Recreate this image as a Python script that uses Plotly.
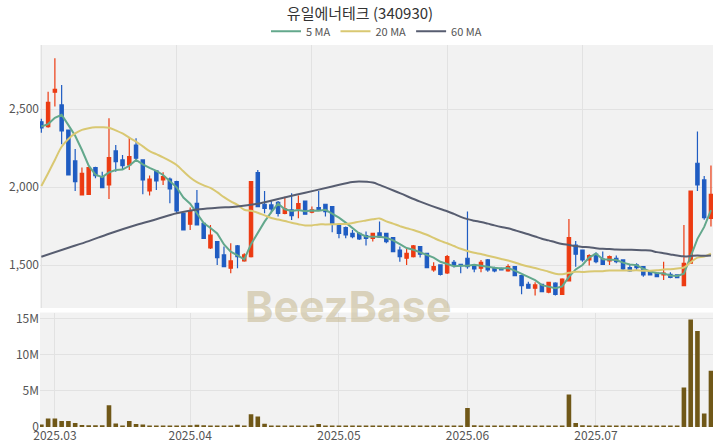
import numpy as np
import pandas as pd
import plotly.graph_objects as go

# ---- data ----
start_date = "2025-02-27"
holidays = ["2025-03-03", "2025-05-01", "2025-05-05", "2025-05-06", "2025-06-03", "2025-06-06"]

opens = [2420, 2389, 2609, 2528, 2367, 2169, 1951, 1955, 2126, 2068,
         2015, 2233, 2175, 2143, 2271, 2175, 1976, 2105, 2047, 2053,
         2036, 1833, 1763, 1897, 1769, 1611, 1652, 1566, 1481, 1624,
         1528, 1556, 2094, 1891, 1887, 1904, 1833, 1855, 1861, 1912,
         1840, 1870, 1891, 1876, 1758, 1741, 1705, 1705, 1690, 1673,
         1707, 1705, 1677, 1598, 1545, 1556, 1620, 1577, 1470, 1502,
         1451, 1519, 1506, 1545, 1498, 1481, 1534, 1481, 1481, 1464,
         1491, 1434, 1378, 1353, 1378, 1327, 1385, 1314, 1400, 1630,
         1598, 1534, 1571, 1540, 1528, 1545, 1534, 1485, 1502, 1491,
         1459, 1449, 1438, 1442, 1438, 1370, 1513, 2154, 2047, 1801]
highs = [2440, 2613, 2827, 2656, 2370, 2246, 2126, 2132, 2132, 2100,
         2442, 2271, 2207, 2318, 2314, 2175, 2075, 2111, 2096, 2062,
         2041, 1835, 1870, 1983, 1769, 1758, 1652, 1620, 1641, 1630,
         1577, 2040, 2111, 1976, 1912, 1912, 1940, 1961, 1947, 1912,
         1876, 1976, 1891, 1876, 1769, 1748, 1726, 1711, 1716, 1709,
         1780, 1705, 1680, 1620, 1605, 1630, 1620, 1580, 1519, 1502,
         1566, 1534, 1506, 1844, 1498, 1534, 1540, 1491, 1485, 1506,
         1491, 1434, 1395, 1391, 1378, 1395, 1391, 1417, 1797, 1656,
         1598, 1571, 1583, 1588, 1562, 1562, 1534, 1502, 1513, 1491,
         1470, 1449, 1523, 1455, 1442, 1758, 1980, 2357, 2073, 2139]
lows = [2350, 2382, 2517, 2276, 2075, 1976, 1947, 1951, 2058, 1994,
        1925, 2100, 2111, 2111, 2175, 1955, 1947, 1983, 2015, 1898,
        1833, 1723, 1726, 1755, 1670, 1605, 1502, 1491, 1449, 1481,
        1523, 1550, 1874, 1833, 1833, 1812, 1827, 1790, 1801, 1827,
        1833, 1851, 1812, 1711, 1673, 1673, 1673, 1662, 1626, 1652,
        1675, 1641, 1585, 1523, 1502, 1550, 1550, 1483, 1459, 1434,
        1444, 1485, 1449, 1477, 1455, 1455, 1459, 1455, 1466, 1459,
        1434, 1314, 1353, 1306, 1327, 1321, 1306, 1314, 1400, 1491,
        1523, 1498, 1513, 1502, 1502, 1513, 1470, 1459, 1470, 1427,
        1434, 1427, 1406, 1417, 1417, 1370, 1510, 1976, 1791, 1748]
closes = [2380, 2545, 2628, 2361, 2079, 2036, 2090, 2126, 2075, 1998,
          2190, 2165, 2139, 2197, 2186, 2047, 2053, 2041, 2068, 1989,
          1848, 1726, 1844, 1759, 1673, 1694, 1549, 1491, 1528, 1556,
          1566, 2036, 1876, 1865, 1861, 1833, 1861, 1818, 1895, 1827,
          1855, 1855, 1844, 1769, 1705, 1694, 1684, 1669, 1673, 1705,
          1680, 1652, 1588, 1556, 1577, 1624, 1571, 1485, 1491, 1442,
          1556, 1498, 1498, 1491, 1477, 1519, 1470, 1464, 1470, 1491,
          1434, 1370, 1353, 1374, 1331, 1391, 1314, 1412, 1678, 1571,
          1534, 1562, 1523, 1506, 1556, 1523, 1477, 1464, 1485, 1438,
          1438, 1427, 1449, 1423, 1421, 1513, 1976, 2015, 1805, 1955]
volumes_m = [0.33, 1.17, 1.17, 0.83, 0.83, 0.56, 0.28, 0.25, 0.25, 0.25,
             3.0, 0.47, 0.10, 0.83, 0.40, 0.35, 0.15, 0.15, 0.10, 0.10,
             0.10, 0.20, 0.25, 0.30, 0.25, 0.20, 0.20, 0.20, 0.20, 0.30,
             0.10, 1.76, 1.45, 0.45, 0.20, 0.20, 0.20, 0.15, 0.20, 0.20,
             0.15, 0.40, 0.20, 0.20, 0.15, 0.15, 0.10, 0.10, 0.10, 0.10,
             0.12, 0.10, 0.10, 0.10, 0.08, 0.10, 0.12, 0.15, 0.12, 0.15,
             0.20, 0.15, 0.12, 2.64, 0.24, 0.22, 0.20, 0.12, 0.10, 0.22,
             0.25, 0.15, 0.12, 0.15, 0.15, 0.15, 0.20, 0.20, 4.50, 0.56,
             0.24, 0.20, 0.15, 0.12, 0.12, 0.10, 0.10, 0.12, 0.10, 0.08,
             0.10, 0.10, 0.12, 0.15, 0.10, 5.47, 14.9, 13.3, 1.86, 7.80]

# moving-average values before each window is full
ma5_head = [2390, 2405, 2445, 2465]
ma20_head = [2008, 2090, 2175, 2260, 2310, 2345, 2368, 2378, 2384, 2385,
             2382, 2365, 2345, 2318, 2293, 2262, 2232, 2212, 2192]
ma60_head_idx = [0, 4, 7, 10, 14, 17, 20, 23, 26, 29, 32, 35, 39, 43, 46, 47, 49, 50, 53, 56]
ma60_head_val = [1555, 1612, 1655, 1702, 1758, 1795, 1833, 1857, 1868, 1877,
                 1895, 1925, 1965, 2005, 2034, 2037, 2030, 2015, 1962, 1908]

price_ticks = [1500, 2000, 2500]
vol_ticks = [0, 5e6, 10e6, 15e6]
vol_tick_text = ["0", "5M", "10M", "15M"]

# ---- derived ----
n = len(closes)
hol = pd.to_datetime(holidays)
days = pd.bdate_range(start_date, periods=n + 20)
days = days[~days.isin(hol)][:n]
idx = np.arange(n)
volumes = np.array(volumes_m) * 1e6

cs = pd.Series(closes, dtype=float)
ma5 = ma5_head + list(cs.rolling(5).mean().iloc[4:])
ma20 = ma20_head + list(cs.rolling(20).mean().iloc[19:])
ma60_x = ma60_head_idx + list(range(59, n))
ma60_y = ma60_head_val + list(cs.rolling(60).mean().iloc[59:])

months = pd.Series(days.to_period("M"))
first_of_month = months.drop_duplicates(keep="first")
first_of_month = first_of_month[first_of_month.index > 0]
month_pos = list(first_of_month.index)
month_txt = [p.strftime("%Y.%m") for p in first_of_month]

UP = "#ec3b12"
DOWN = "#1f5cc2"
FONT = "Noto Sans CJK KR, Roboto, sans-serif"

fig = go.Figure()
fig.add_trace(go.Candlestick(
    x=idx, open=opens, high=highs, low=lows, close=closes,
    increasing=dict(line=dict(color=UP, width=1.2), fillcolor=UP),
    decreasing=dict(line=dict(color=DOWN, width=1.2), fillcolor=DOWN),
    whiskerwidth=0, showlegend=False, xaxis="x", yaxis="y"))
fig.add_trace(go.Scatter(x=idx, y=ma5, mode="lines", name="5 MA",
                         line=dict(color="#63a88c", width=2), xaxis="x", yaxis="y"))
fig.add_trace(go.Scatter(x=idx, y=ma20, mode="lines", name="20 MA",
                         line=dict(color="#d9c872", width=2, shape="spline"), xaxis="x", yaxis="y"))
fig.add_trace(go.Scatter(x=ma60_x, y=ma60_y, mode="lines", name="60 MA",
                         line=dict(color="#575d70", width=2, shape="spline"), xaxis="x", yaxis="y"))
fig.add_trace(go.Bar(x=idx, y=volumes, marker=dict(color="#705818", line=dict(width=0)),
                     showlegend=False, xaxis="x2", yaxis="y2"))

xr = [-0.2, n - 0.7]
grid = "#e2e2e2"
fig.update_layout(
    width=720, height=448,
    margin=dict(l=40, r=7, t=45, b=21, autoexpand=False),
    paper_bgcolor="white", plot_bgcolor="#f2f2f2",
    font=dict(family=FONT, size=12, color="#555"),
    title=dict(text="유일에너테크 (340930)", x=0.5, xanchor="center", y=1 - 14 / 448,
               yanchor="middle", yref="container",
               font=dict(family=FONT, size=15, color="#333")),
    legend=dict(orientation="h", x=0.5, xanchor="center", y=1.036, yanchor="middle",
                font=dict(size=11, color="#555"), bgcolor="rgba(0,0,0,0)",
                itemwidth=30, tracegroupgap=0),
    bargap=0.32,
    xaxis=dict(domain=[0, 1], range=xr, anchor="y", rangeslider=dict(visible=False),
               tickvals=list(range(0, n, 20)), showticklabels=False, automargin=False,
               showgrid=True, gridcolor=grid, zeroline=False, ticks=""),
    yaxis=dict(domain=[0.3115, 1], range=[1226, 2912], tickvals=price_ticks, automargin=False,
               tickformat=",", showgrid=True, gridcolor=grid, zeroline=False, ticks=""),
    xaxis2=dict(domain=[0, 1], range=xr, anchor="y2", tickvals=month_pos, ticktext=month_txt,
                automargin=False, showgrid=True, gridcolor=grid, zeroline=False, ticks=""),
    yaxis2=dict(domain=[0, 0.2997], range=[0, 15.86e6], tickvals=vol_ticks, ticktext=vol_tick_text,
                automargin=False, showgrid=True, gridcolor=grid, zeroline=False, ticks=""),
    annotations=[dict(text="<b>BeezBase</b>", x=0.458, y=0.318, xref="paper", yref="paper",
                      xanchor="center", yanchor="middle", showarrow=False,
                      font=dict(family="Inter, Open Sans, sans-serif", size=43,
                                color="rgba(200,188,150,0.62)"))],
)
fig.write_html("out.html", config={"displayModeBar": False},
               post_script="document.body.style.margin='0';")
